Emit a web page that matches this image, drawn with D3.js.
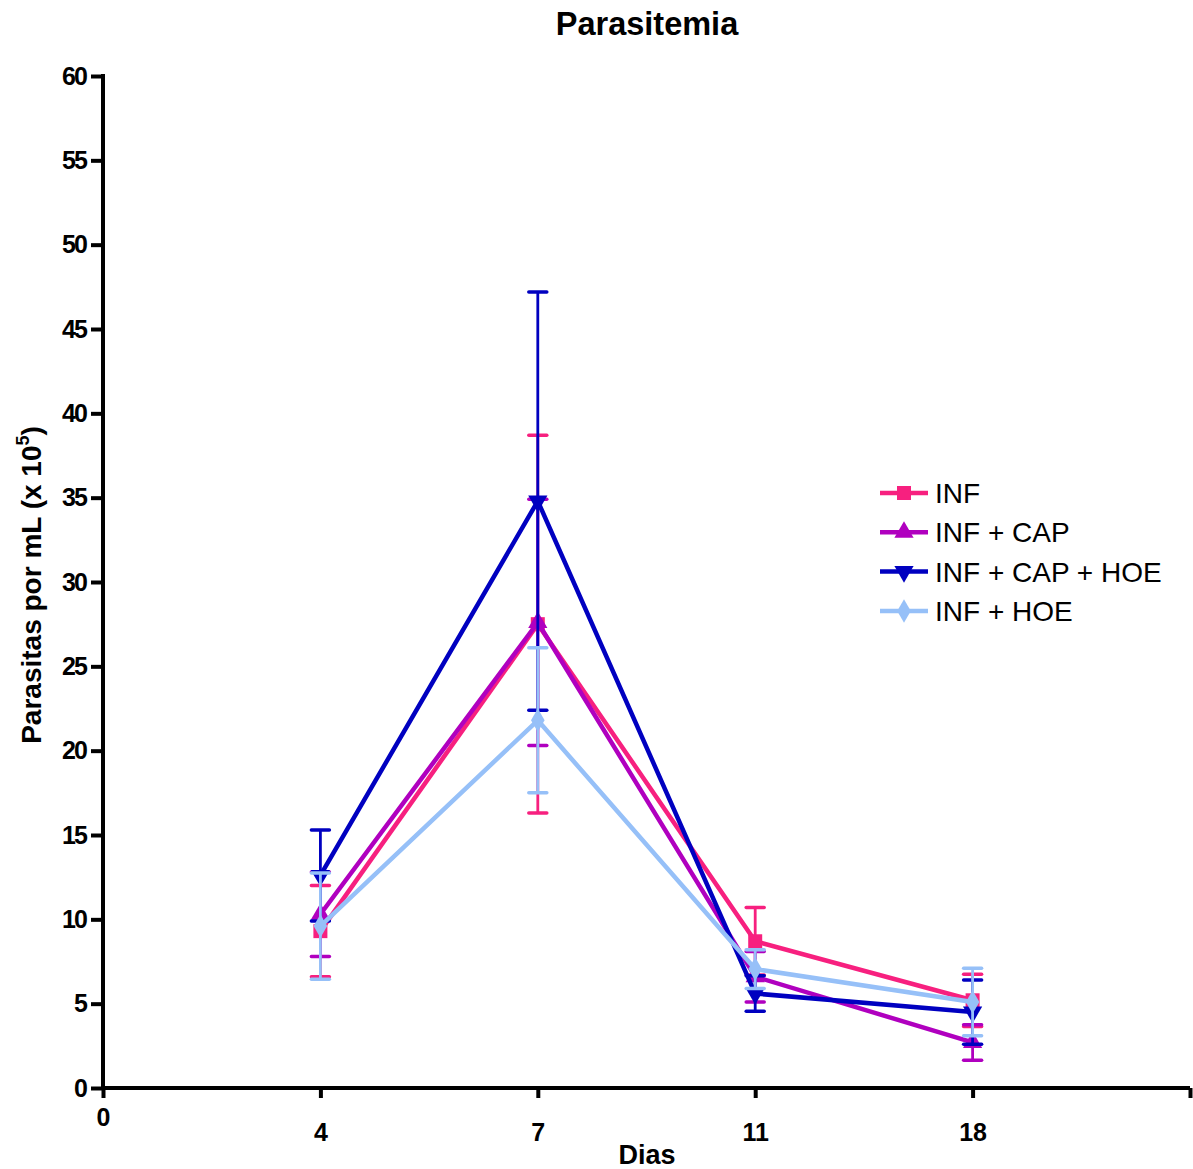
<!DOCTYPE html>
<html>
<head>
<meta charset="utf-8">
<script src="https://cdn.jsdelivr.net/npm/d3@7"></script>
<style>
  body { margin: 0; background: #fff; }
  svg { font-family: 'Liberation Sans', Arial, sans-serif; }
</style>
</head>
<body>
<svg id="chart" width="1193" height="1169"></svg>
<script>
// x positions are categorical slots: 0 | 4 | 7 | 11 | 18 | (end)
const dayLabels = ['0', '4', '7', '11', '18']
const days = ['4', '7', '11', '18']
const seriesNames = ['INF', 'INF + CAP', 'INF + CAP + HOE', 'INF + HOE']
const seriesColors = ['#f7207f', '#b000bf', '#0000c0', '#96c0f8']
const seriesSymbols = ['square', 'triangle', 'triangleDown', 'diamond']

const infMean = [9.3, 27.5, 8.7, 5.2]
const infErr = [2.7, 11.2, 2.0, 1.55]
const capMean = [10.3, 27.6, 6.6, 2.7]
const capErr = [2.5, 7.3, 1.5, 1.05]
const capHoeMean = [12.6, 34.8, 5.6, 4.5]
const capHoeErr = [2.7, 12.4, 1.05, 1.9]
const hoeMean = [9.6, 21.8, 7.05, 5.1]
const hoeErr = [3.15, 4.3, 1.15, 2.0]

const allMeans = [infMean, capMean, capHoeMean, hoeMean]
const allErrs = [infErr, capErr, capHoeErr, hoeErr]

const yTicks = d3.range(0, 61, 5)

const svg = d3.select('#chart')
const MARGIN = { top: 76, right: 3, bottom: 81, left: 103 }
const width = 1193, height = 1169

const x = d3.scaleLinear().domain([0, 5]).range([MARGIN.left, width - MARGIN.right])
const y = d3.scaleLinear().domain([0, 60]).range([height - MARGIN.bottom, MARGIN.top])

// title
svg.append('text')
  .attr('x', 647).attr('y', 35)
  .attr('text-anchor', 'middle')
  .attr('font-size', 32.5).attr('font-weight', 'bold')
  .text('Parasitemia')

// y axis
const yAxis = svg.append('g')
  .attr('transform', `translate(${x(0)},0)`)
  .call(d3.axisLeft(y).tickValues(yTicks).tickSize(12).tickPadding(3).tickFormat(d3.format('d')))
yAxis.select('.domain').attr('stroke', '#000').attr('stroke-width', 4).attr('d', `M0,${y(60) - 2}V${y(0) + 2}`)
yAxis.selectAll('.tick line').attr('stroke', '#000').attr('stroke-width', 4)
yAxis.selectAll('.tick text')
  .attr('font-size', 25).attr('font-weight', 'bold').attr('fill', '#000')
  .attr('font-family', "'Liberation Sans', Arial, sans-serif")
  .attr('textLength', d => d >= 10 ? 26 : 13)

// x axis
const xAxis = svg.append('g')
  .attr('transform', `translate(0,${y(0)})`)
  .call(d3.axisBottom(x).tickValues([0, 1, 2, 3, 4, 5]).tickSize(10).tickPadding(6)
    .tickFormat((d, i) => dayLabels[i] || ''))
xAxis.select('.domain').attr('stroke', '#000').attr('stroke-width', 4).attr('d', `M${x(0) - 2},0H${x(5)}`)
xAxis.selectAll('.tick line').attr('stroke', '#000').attr('stroke-width', 4)
xAxis.selectAll('.tick text')
  .attr('font-size', 25).attr('font-weight', 'bold').attr('fill', '#000')
  .attr('font-family', "'Liberation Sans', Arial, sans-serif")
  .attr('dy', 0)
  .attr('y', (d, i) => i === 0 ? 38 : 53)

// axis titles
svg.append('text')
  .attr('x', 647).attr('y', 1164)
  .attr('text-anchor', 'middle')
  .attr('font-size', 27).attr('font-weight', 'bold')
  .text('Dias')

const yLab = svg.append('text')
  .attr('transform', 'translate(41,585) rotate(-90)')
  .attr('text-anchor', 'middle')
  .attr('font-size', 28).attr('font-weight', 'bold')
yLab.append('tspan').text('Parasitas por mL (x 10')
yLab.append('tspan').attr('font-size', 18).attr('dy', -12).text('5')
yLab.append('tspan').attr('dy', 12).text(')')

const symbolMap = {
  square: d3.symbolSquare,
  triangle: d3.symbolTriangle,
  diamond: d3.symbolDiamond
}
function drawSymbol(g, type, cx, cy, color) {
  if (type === 'triangleDown') {
    g.append('path')
      .attr('d', d3.symbol(d3.symbolTriangle, 160)())
      .attr('transform', `translate(${cx},${cy}) rotate(180)`)
      .attr('fill', color)
  } else {
    g.append('path')
      .attr('d', d3.symbol(symbolMap[type], type === 'square' ? 196 : 160)())
      .attr('transform', `translate(${cx},${cy})`)
      .attr('fill', color)
  }
}

const line = d3.line().x((d, i) => x(i + 1)).y(d => y(d))

seriesNames.forEach((name, s) => {
  const g = svg.append('g').attr('class', 'series')
  const color = seriesColors[s]
  const means = allMeans[s], errs = allErrs[s]
  // error bars
  means.forEach((m, i) => {
    const cx = x(i + 1)
    g.append('line')
      .attr('x1', cx).attr('x2', cx)
      .attr('y1', y(m - errs[i])).attr('y2', y(m + errs[i]))
      .attr('stroke', color).attr('stroke-width', 2.8)
    ;[m - errs[i], m + errs[i]].forEach(v => {
      g.append('line')
        .attr('x1', cx - 9).attr('x2', cx + 9)
        .attr('y1', y(v)).attr('y2', y(v))
        .attr('stroke', color).attr('stroke-width', 3.5)
        .attr('stroke-linecap', 'round')
    })
  })
  g.append('path')
    .datum(means)
    .attr('d', line)
    .attr('fill', 'none')
    .attr('stroke', color).attr('stroke-width', 4.5)
    .attr('stroke-linejoin', 'round')
  means.forEach((m, i) => drawSymbol(g, seriesSymbols[s], x(i + 1), y(m), color))
})

// legend
const legend = svg.append('g').attr('transform', 'translate(880,493)')
seriesNames.forEach((name, s) => {
  const row = legend.append('g').attr('transform', `translate(0,${s * 39.3})`)
  row.append('line')
    .attr('x1', 0).attr('x2', 48).attr('y1', 0).attr('y2', 0)
    .attr('stroke', seriesColors[s]).attr('stroke-width', 4.5)
  drawSymbol(row, seriesSymbols[s], 24, 0, seriesColors[s])
  row.append('text')
    .attr('x', 55).attr('y', 10)
    .attr('font-size', 28)
    .text(name)
})
</script>
</body>
</html>
